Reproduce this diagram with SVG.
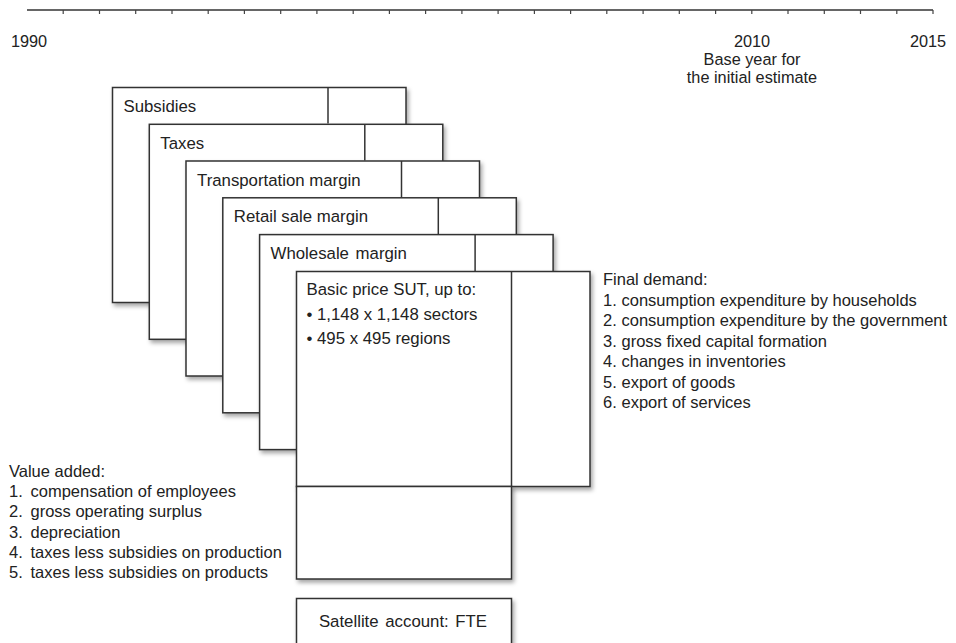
<svg xmlns="http://www.w3.org/2000/svg" width="956" height="643" viewBox="0 0 956 643">
<defs>
<filter id="sh" x="-10%" y="-10%" width="120%" height="120%">
<feDropShadow dx="2" dy="3" stdDeviation="2.2" flood-color="#000" flood-opacity="0.35"/>
</filter>
</defs>
<style>
text{font-family:"Liberation Sans",Arial,sans-serif;font-size:16.3px;fill:#222}
.bt{font-size:16.8px}
.lt{font-size:16.5px}
.box{fill:#fff;stroke:#333;stroke-width:1.5;filter:url(#sh)}
.ln{stroke:#333;stroke-width:1.5;fill:none}
.tick{stroke:#444;stroke-width:1.2}
</style>
<rect width="956" height="643" fill="#fff"/>
<g id="timeline">
<line class="ln" x1="27" y1="10" x2="933" y2="10"/>
<path class="tick" d="M63.2 10v4M99.5 10v4M135.7 10v4M172 10v4M208.2 10v4M244.4 10v4M280.7 10v4M316.9 10v4M353.2 10v4M389.4 10v4M425.6 10v4M461.9 10v4M498.1 10v4M534.4 10v4M570.6 10v4M606.8 10v4M643.1 10v4M679.3 10v4M715.6 10v4M751.8 10v4M788 10v4M824.3 10v4M860.5 10v4M896.8 10v4M933 10v4"/>
<text x="29" y="47" text-anchor="middle">1990</text>
<text x="752" y="47" text-anchor="middle">2010</text>
<text x="752" y="65" text-anchor="middle">Base year for</text>
<text x="752" y="83" text-anchor="middle">the initial estimate</text>
<text x="928" y="47" text-anchor="middle">2015</text>
</g>
<g id="subsidies">
<rect class="box" x="112.5" y="87.5" width="293.5" height="215"/>
<line class="ln" x1="328" y1="87.5" x2="328" y2="123.5"/>
<text class="bt" x="123.5" y="112">Subsidies</text>
</g>
<g id="taxes">
<rect class="box" x="149.3" y="124.3" width="293.5" height="215"/>
<line class="ln" x1="364.8" y1="124.3" x2="364.8" y2="160.5"/>
<text class="bt" x="160.3" y="148.8">Taxes</text>
</g>
<g id="transportation">
<rect class="box" x="186" y="161" width="293.5" height="215"/>
<line class="ln" x1="401.5" y1="161" x2="401.5" y2="197.5"/>
<text class="bt" x="197" y="185.5">Transportation margin</text>
</g>
<g id="retail">
<rect class="box" x="222.8" y="197.8" width="293.5" height="215"/>
<line class="ln" x1="438.3" y1="197.8" x2="438.3" y2="234.5"/>
<text class="bt" x="233.8" y="222.3">Retail sale margin</text>
</g>
<g id="wholesale">
<rect class="box" x="259.6" y="234.6" width="293.5" height="215"/>
<line class="ln" x1="475.1" y1="234.6" x2="475.1" y2="271"/>
<text class="bt" x="270.6" y="259.1" word-spacing="2">Wholesale margin</text>
</g>
<g id="basic">
<rect class="box" x="296.5" y="271.5" width="293.5" height="215"/>
<line class="ln" x1="511.5" y1="271.5" x2="511.5" y2="486.5"/>
<text class="bt" x="306.5" y="295">Basic price SUT, up to:</text>
<text class="bt" x="306.5" y="319.5">• 1,148 x 1,148 sectors</text>
<text class="bt" x="306.5" y="343.5">• 495 x 495 regions</text>
</g>
<g id="valueadded-box">
<rect class="box" x="296.5" y="486.5" width="215" height="92.5"/>
</g>
<g id="satellite">
<rect class="box" x="296.5" y="598.5" width="215" height="70"/>
<text class="bt" x="403" y="627" text-anchor="middle" word-spacing="2">Satellite account: FTE</text>
</g>
<g id="final-demand" class="lt">
<text class="lt" x="603" y="285">Final demand:</text>
<text class="lt" x="603" y="305.5">1.<tspan x="621.5">consumption expenditure by households</tspan></text>
<text class="lt" x="603" y="326">2.<tspan x="621.5">consumption expenditure by the government</tspan></text>
<text class="lt" x="603" y="346.5">3.<tspan x="621.5">gross fixed capital formation</tspan></text>
<text class="lt" x="603" y="367">4.<tspan x="621.5">changes in inventories</tspan></text>
<text class="lt" x="603" y="387.5">5.<tspan x="621.5">export of goods</tspan></text>
<text class="lt" x="603" y="408">6.<tspan x="621.5">export of services</tspan></text>
</g>
<g id="value-added">
<text class="lt" x="9" y="477">Value added:</text>
<text class="lt" x="9" y="497.2">1.<tspan x="30.5">compensation of employees</tspan></text>
<text class="lt" x="9" y="517.4">2.<tspan x="30.5">gross operating surplus</tspan></text>
<text class="lt" x="9" y="537.6">3.<tspan x="30.5">depreciation</tspan></text>
<text class="lt" x="9" y="557.8">4.<tspan x="30.5">taxes less subsidies on production</tspan></text>
<text class="lt" x="9" y="578">5.<tspan x="30.5">taxes less subsidies on products</tspan></text>
</g>
<g id="connectors"></g>
</svg>
